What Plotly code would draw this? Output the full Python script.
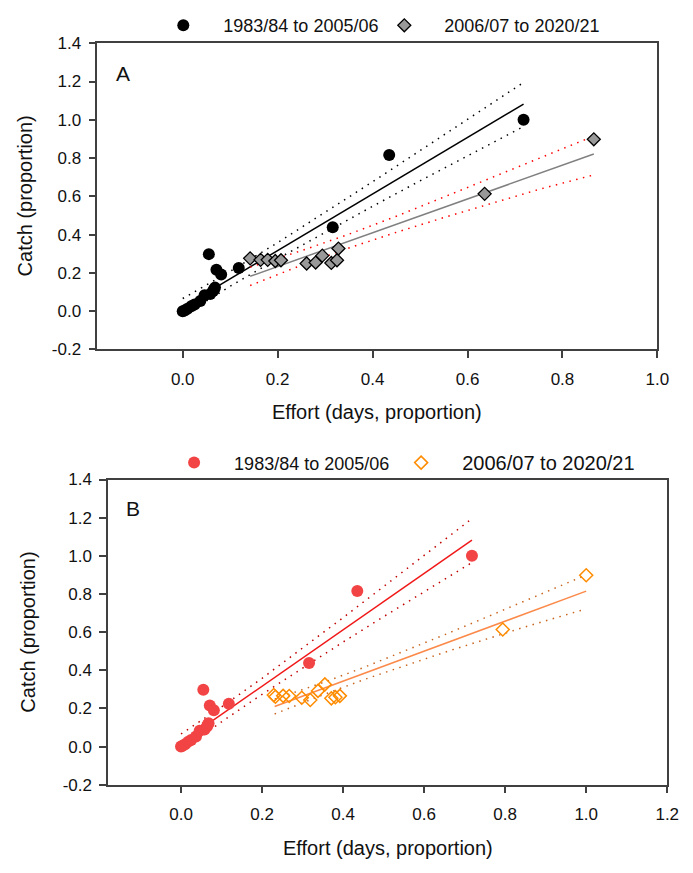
import plotly.graph_objects as go

# ---------------- data ----------------
# Period 1: 1983/84 to 2005/06 (same values in both panels)
effort_early = [0.000, 0.004, 0.010, 0.018, 0.025, 0.037, 0.046, 0.058, 0.064, 0.066, 0.068,
                0.055, 0.071, 0.081, 0.118, 0.316, 0.435, 0.718]
catch_early = [0.000, 0.004, 0.012, 0.026, 0.035, 0.053, 0.083, 0.089, 0.105, 0.114, 0.123,
               0.298, 0.216, 0.191, 0.225, 0.438, 0.816, 1.000]

# Period 2: 2006/07 to 2020/21, panel A
effort_late_A = [0.142, 0.164, 0.179, 0.195, 0.207, 0.261, 0.280, 0.294, 0.313, 0.325, 0.328, 0.636, 0.866]
catch_late_A = [0.276, 0.268, 0.268, 0.262, 0.266, 0.249, 0.254, 0.290, 0.252, 0.266, 0.327, 0.613, 0.898]

# Period 2: 2006/07 to 2020/21, panel B
effort_late_B = [0.229, 0.233, 0.252, 0.267, 0.298, 0.319, 0.338, 0.355, 0.371, 0.381, 0.392, 0.794, 1.000]
catch_late_B = [0.270, 0.261, 0.266, 0.265, 0.256, 0.244, 0.292, 0.326, 0.253, 0.259, 0.266, 0.614, 0.898]

# Regression lines and confidence bands
early_fit_x = [0.0, 0.718]
early_fit_y = [0.021, 1.082]
early_ci_x = [0.0, 0.1, 0.2, 0.3, 0.4, 0.5, 0.6, 0.718]
early_ci_upper = [0.066, 0.208, 0.358, 0.515, 0.676, 0.839, 1.003, 1.195]
early_ci_lower = [-0.024, 0.130, 0.274, 0.413, 0.548, 0.681, 0.812, 0.965]

lateA_fit_x = [0.142, 0.866]
lateA_fit_y = [0.182, 0.821]
lateA_ci_x = [0.142, 0.25, 0.35, 0.45, 0.55, 0.65, 0.75, 0.866]
lateA_ci_upper = [0.230, 0.316, 0.402, 0.496, 0.596, 0.697, 0.801, 0.915]
lateA_ci_lower = [0.134, 0.240, 0.330, 0.412, 0.489, 0.563, 0.636, 0.712]

lateB_fit_x = [0.231, 1.0]
lateB_fit_y = [0.210, 0.815]
lateB_ci_x = [0.231, 0.35, 0.45, 0.55, 0.65, 0.75, 0.85, 1.0]
lateB_ci_upper = [0.249, 0.335, 0.414, 0.498, 0.586, 0.675, 0.766, 0.900]
lateB_ci_lower = [0.171, 0.271, 0.350, 0.424, 0.494, 0.561, 0.628, 0.722]

y_ticks = [-0.2, 0.0, 0.2, 0.4, 0.6, 0.8, 1.0, 1.2, 1.4]
y_ticktext = ["-0.2", "0.0", "0.2", "0.4", "0.6", "0.8", "1.0", "1.2", "1.4"]
xA_ticks = [0.0, 0.2, 0.4, 0.6, 0.8, 1.0]
xA_ticktext = ["0.0", "0.2", "0.4", "0.6", "0.8", "1.0"]
xB_ticks = [0.0, 0.2, 0.4, 0.6, 0.8, 1.0, 1.2]
xB_ticktext = ["0.0", "0.2", "0.4", "0.6", "0.8", "1.0", "1.2"]

label_early = "1983/84 to 2005/06"
label_late = "2006/07 to 2020/21"

# ---------------- figure ----------------
W, H = 693, 873
FONT = "Arial, Liberation Sans, sans-serif"
DOT = "1.5px,5.5px"
PAD = "\u00a0\u00a0"

fig = go.Figure()


def line(x, y, color, xa, ya, dash=None, width=1.5):
    fig.add_trace(go.Scatter(x=x, y=y, mode="lines", xaxis=xa, yaxis=ya,
                             line=dict(color=color, width=width, dash=dash),
                             showlegend=False, hoverinfo="skip"))


# Panel A lines
line(early_ci_x, early_ci_upper, "black", "x", "y", DOT)
line(early_ci_x, early_ci_lower, "black", "x", "y", DOT)
line(early_fit_x, early_fit_y, "black", "x", "y")
line(lateA_ci_x, lateA_ci_upper, "#ff0000", "x", "y", DOT)
line(lateA_ci_x, lateA_ci_lower, "#ff0000", "x", "y", DOT)
line(lateA_fit_x, lateA_fit_y, "#808080", "x", "y")

# Panel A markers
fig.add_trace(go.Scatter(x=effort_early, y=catch_early, mode="markers", xaxis="x", yaxis="y",
                         name=PAD + label_early, legend="legend",
                         marker=dict(symbol="circle", size=12, color="black")))
fig.add_trace(go.Scatter(x=effort_late_A, y=catch_late_A, mode="markers", xaxis="x", yaxis="y",
                         name=PAD + label_late, legend="legend", legendwidth=185,
                         marker=dict(symbol="diamond", size=10, color="#999999",
                                     line=dict(color="black", width=1.3))))

# Panel B lines
line(early_ci_x, early_ci_upper, "#c00000", "x2", "y2", DOT)
line(early_ci_x, early_ci_lower, "#c00000", "x2", "y2", DOT)
line(early_fit_x, early_fit_y, "#f01818", "x2", "y2")
line(lateB_ci_x, lateB_ci_upper, "#c8641e", "x2", "y2", DOT)
line(lateB_ci_x, lateB_ci_lower, "#c8641e", "x2", "y2", DOT)
line(lateB_fit_x, lateB_fit_y, "#fb8a4a", "x2", "y2")

# Panel B markers
fig.add_trace(go.Scatter(x=effort_early, y=catch_early, mode="markers", xaxis="x2", yaxis="y2",
                         name=PAD + label_early, legend="legend2",
                         marker=dict(symbol="circle", size=12, color="#f24444")))
fig.add_trace(go.Scatter(x=effort_late_B, y=catch_late_B, mode="markers", xaxis="x2", yaxis="y2",
                         name='<span style="font-size:20px">' + PAD + label_late + '</span>',
                         legend="legend2", legendwidth=200,
                         marker=dict(symbol="diamond-open", size=10, color="#ff8c00",
                                     line=dict(color="#ff8c00", width=1.5))))


def px_x(p):
    return p / W


def px_y(p):
    return 1 - p / H


def axis_common():
    return dict(showline=True, mirror=True, linecolor="#404040", linewidth=1.5,
                ticks="outside", ticklen=7, tickwidth=1.5, tickcolor="#404040",
                showgrid=False, zeroline=False,
                tickfont=dict(family=FONT, size=17, color="#111111"))


xA = dict(domain=[px_x(99), px_x(669)], range=[-0.18, 1.0], tickvals=xA_ticks, ticktext=xA_ticktext,
          anchor="y", ticklabelstandoff=6, **axis_common())
yA = dict(domain=[px_y(348), px_y(35)], range=[-0.2, 1.4], tickvals=y_ticks, ticktext=y_ticktext,
          anchor="x", ticklabelstandoff=4, **axis_common())
xB = dict(domain=[px_x(110), px_x(679)], range=[-0.18, 1.2], tickvals=xB_ticks, ticktext=xB_ticktext,
          anchor="y2", ticklabelstandoff=6, **axis_common())
yB = dict(domain=[px_y(793), px_y(481)], range=[-0.2, 1.4], tickvals=y_ticks, ticktext=y_ticktext,
          anchor="x2", ticklabelstandoff=4, **axis_common())

ann_font = dict(family=FONT, size=20, color="#111111")
annotations = [
    dict(text="Effort (days, proportion)", x=px_x((99 + 669) / 2), y=px_y(412), xref="paper", yref="paper",
         showarrow=False, font=ann_font, xanchor="center", yanchor="middle"),
    dict(text="Catch (proportion)", x=px_x(25), y=px_y(191), xref="paper", yref="paper", textangle=-90,
         showarrow=False, font=ann_font, xanchor="center", yanchor="middle"),
    dict(text="Effort (days, proportion)", x=px_x((110 + 679) / 2), y=px_y(858), xref="paper", yref="paper",
         showarrow=False, font=ann_font, xanchor="center", yanchor="middle"),
    dict(text="Catch (proportion)", x=px_x(29), y=px_y(637), xref="paper", yref="paper", textangle=-90,
         showarrow=False, font=ann_font, xanchor="center", yanchor="middle"),
    dict(text="A", x=px_x(125), y=px_y(66), xref="paper", yref="paper",
         showarrow=False, font=dict(family=FONT, size=21, color="#111111"), xanchor="center", yanchor="middle"),
    dict(text="B", x=px_x(135), y=px_y(511), xref="paper", yref="paper",
         showarrow=False, font=dict(family=FONT, size=21, color="#111111"), xanchor="center", yanchor="middle"),
]

leg_common = dict(orientation="h", xref="paper", yref="paper", xanchor="left", yanchor="middle",
                  bgcolor="rgba(0,0,0,0)", itemwidth=50, entrywidthmode="pixels",
                  font=dict(family=FONT, size=18, color="#111111"), tracegroupgap=0)

fig.update_layout(
    width=W, height=H,
    margin=dict(l=0, r=0, t=0, b=0),
    paper_bgcolor="white", plot_bgcolor="white",
    xaxis=xA, yaxis=yA, xaxis2=xB, yaxis2=yB,
    annotations=annotations,
    legend=dict(x=px_x(156), y=px_y(17), entrywidth=156, **leg_common),
    legend2=dict(x=px_x(167), y=px_y(464), entrywidth=162, **leg_common),
    font=dict(family=FONT),
)

fig.write_html("out.html")
